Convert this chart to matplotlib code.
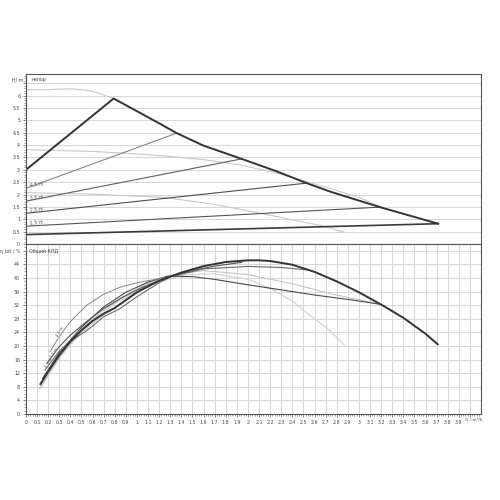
import matplotlib
matplotlib.use("Agg")
import matplotlib.pyplot as plt
import numpy as np

# ---------------- data: head chart ----------------
max_q = [0.0, 0.79, 1.207, 1.358, 1.597, 1.943, 2.25, 2.529, 2.739, 3.189, 3.714]
max_h = [3.0, 5.88, 4.86, 4.48, 3.98, 3.44, 2.95, 2.46, 2.12, 1.49, 0.82]

dpv_names = ["4.5 m", "3.5 m", "2.5 m", "1.5 m"]
dpv_q = [[0.0, 1.358], [0.0, 1.943], [0.0, 2.529], [0.0, 3.189]]
dpv_h = [[2.25, 4.48], [1.73, 3.44], [1.24, 2.46], [0.72, 1.49]]
dpv_colors = ["#858585", "#5e5e5e", "#4e4e4e", "#555555"]

min_q = [0.0, 3.714]
min_h = [0.38, 0.82]

spdA_q = [0.0, 0.2, 0.4, 0.55, 0.68, 0.79]
spdA_h = [6.23, 6.24, 6.27, 6.22, 6.06, 5.88]
spdB_q = [0.0, 0.6, 1.0, 1.3, 1.6, 1.95, 2.3, 2.7, 3.0, 3.189]
spdB_h = [3.81, 3.74, 3.64, 3.54, 3.41, 3.18, 2.82, 2.3, 1.88, 1.52]
spdC_q = [0.0, 0.65, 1.25, 1.7, 2.14, 2.4, 2.68, 2.87]
spdC_h = [2.07, 2.01, 1.88, 1.6, 1.22, 0.98, 0.72, 0.48]

# ---------------- data: efficiency chart ----------------
eff_main_q = [0.13, 0.2, 0.3, 0.4, 0.5, 0.6, 0.7, 0.8, 1.0, 1.2, 1.4, 1.6, 1.8, 2.0, 2.1, 2.2,
              2.4, 2.6, 2.8, 3.0, 3.2, 3.4, 3.6, 3.71]
eff_main = [8.8, 12.5, 17.3, 21.3, 24.6, 27.4, 29.5, 31.2, 35.8, 39.2, 41.6, 43.5, 44.7, 45.2,
            45.2, 45.0, 43.9, 41.8, 39.0, 35.8, 32.2, 28.3, 23.6, 20.5]

eff45_q = [0.216, 0.3, 0.4, 0.547, 0.7, 0.847, 1.0, 1.117, 1.25, 1.36]
eff45 = [18.3, 22.8, 27.2, 32.0, 35.2, 37.3, 38.6, 39.3, 40.1, 40.8]
eff35_q = [0.19, 0.3, 0.4, 0.547, 0.7, 0.847, 1.0, 1.117, 1.3, 1.5, 1.7, 1.943]
eff35 = [15.0, 19.8, 23.2, 27.2, 31.0, 33.9, 36.5, 38.2, 40.5, 42.2, 43.5, 44.6]
eff25_q = [0.17, 0.3, 0.4, 0.547, 0.7, 0.847, 1.0, 1.2, 1.3, 1.6, 2.0, 2.3, 2.529]
eff25 = [12.9, 18.5, 21.5, 24.5, 28.6, 31.0, 34.5, 38.6, 40.3, 42.7, 43.4, 43.1, 42.4]
eff15_q = [0.15, 0.3, 0.5, 0.7, 0.9, 1.1, 1.27, 1.5, 1.7, 2.0, 2.3, 2.6, 2.9, 3.189]
eff15 = [10.5, 18.0, 25.5, 31.5, 35.8, 38.8, 40.5, 40.4, 39.6, 38.0, 36.5, 35.0, 33.7, 32.3]

effA_q = [0.12, 0.2, 0.3, 0.4, 0.5, 0.6, 0.7, 0.79]
effA = [7.5, 11.5, 16.5, 20.5, 23.8, 26.8, 29.2, 31.0]
effB_q = [0.14, 0.3, 0.5, 0.7, 0.9, 1.1, 1.3, 1.6, 2.0, 2.4, 2.74, 3.0, 3.189]
effB = [8.5, 17.5, 25.0, 30.5, 35.0, 38.5, 40.8, 42.2, 41.0, 38.3, 35.4, 33.6, 32.3]
effC_q = [0.13, 0.3, 0.5, 0.8, 1.1, 1.4, 1.69, 2.0, 2.2, 2.41, 2.6, 2.74, 2.87]
effC = [7.5, 16.5, 24.5, 32.5, 37.8, 40.8, 41.3, 39.6, 37.0, 33.0, 28.0, 24.6, 20.2]

# ---------------- ticks ----------------
x_ticks = [round(0.1 * i, 1) for i in range(41)]
x_labels = [f"{v:g}" for v in x_ticks[:-1]] + [""]
x_unit = "Q / m³/h"
h_ticks = [0, 0.5, 1, 1.5, 2, 2.5, 3, 3.5, 4, 4.5, 5, 5.5, 6, 6.5]
h_labels = [f"{v:g}" for v in h_ticks[:-1]] + [""]
e_ticks = [0, 4, 8, 12, 16, 20, 24, 28, 32, 36, 40, 44, 48]
e_labels = [f"{v:g}" for v in e_ticks[:-1]] + ["η tot / %"]

# ---------------- figure ----------------
fig = plt.figure(figsize=(5, 5), dpi=100)
ax1 = fig.add_axes([0.052, 0.512, 0.91, 0.34])
ax2 = fig.add_axes([0.052, 0.172, 0.91, 0.34])

spine_c = "#555555"
grid_c = "#d6d6d6"
fs = 3.4

for ax in (ax1, ax2):
    ax.set_xlim(0, 4.1)
    for s in ax.spines.values():
        s.set_color(spine_c)
        s.set_linewidth(0.8)
    ax.tick_params(axis="both", which="major", length=2.2, width=0.5, color=spine_c,
                   labelsize=fs, labelcolor="#444444", pad=2)
    ax.tick_params(axis="both", which="minor", length=1.2, width=0.4, color=spine_c)

# top chart
ax1.set_ylim(0, 6.87)
ax1.set_yticks(h_ticks)
ax1.set_yticklabels(h_labels)
ax1.set_yticks(np.arange(0, 6.81, 0.1), minor=True)
ax1.set_xticks([])
ax1.yaxis.grid(True, color=grid_c, linewidth=0.7)
ax1.set_axisbelow(True)
ax1.text(-0.006, 6.64, "H/ m", transform=ax1.get_yaxis_transform(), ha="right",
         va="center", fontsize=fs, color="#444444")
ax1.text(0.05, 6.64, "напор", fontsize=fs, color="#444444", va="center", ha="left")

ax1.plot(spdA_q, spdA_h, color="#c8c8c8", lw=0.8)
ax1.plot(spdB_q, spdB_h, color="#c8c8c8", lw=0.8)
ax1.plot(spdC_q, spdC_h, color="#c8c8c8", lw=0.8)
ax1.plot(min_q, min_h, color="#3a3a3a", lw=1.2)
for name, q, h, c in zip(dpv_names, dpv_q, dpv_h, dpv_colors):
    ax1.plot(q, h, color=c, lw=0.8)
    ax1.text(0.03, h[0] + 0.13, name, fontsize=fs, color="#555555", ha="left",
             va="center", rotation=6)
ax1.plot(max_q, max_h, color="#333333", lw=1.4)

# bottom chart
ax2.set_ylim(0, 50)
ax2.set_yticks(e_ticks)
ax2.set_yticklabels(e_labels)
ax2.set_yticks(np.arange(0, 50, 1), minor=True)
ax2.set_xticks(x_ticks)
ax2.set_xticklabels(x_labels)
ax2.set_xticks(np.arange(0, 4.1, 0.02), minor=True)
ax2.grid(True, which="major", color=grid_c, linewidth=0.7)
ax2.set_axisbelow(True)
ax2.text(0.03, 48, "Общий КПД", fontsize=fs, color="#444444", va="center", ha="left")
ax2.text(3.955, -0.028, x_unit, transform=ax2.get_xaxis_transform(), fontsize=3.1,
         color="#444444", ha="left", va="top")

ax2.plot(effC_q, effC, color="#cfcfcf", lw=0.8)
ax2.plot(effB_q, effB, color="#c4c4c4", lw=0.8)
ax2.plot(effA_q, effA, color="#c4c4c4", lw=0.8)
ax2.plot(eff15_q, eff15, color="#4a4a4a", lw=0.8)
ax2.plot(eff25_q, eff25, color="#6a6a6a", lw=0.8)
ax2.plot(eff35_q, eff35, color="#555555", lw=0.8)
ax2.plot(eff45_q, eff45, color="#858585", lw=0.7)
ax2.plot(eff_main_q, eff_main, color="#333333", lw=1.4)

ax2.text(eff45_q[1] + 0.01, eff45[1] + 1.5, "4.5 m", fontsize=2.8, color="#555555",
         rotation=58, ha="center", va="center")
ax2.text(eff35_q[0] + 0.06, eff35[0] + 3.0, "3.5 m", fontsize=2.8, color="#555555",
         rotation=58, ha="center", va="center")
ax2.text(eff25_q[0] + 0.04, eff25[0] + 2.2, "2.5 m", fontsize=2.8, color="#555555",
         rotation=58, ha="center", va="center")

fig.savefig("out.png", dpi=100, facecolor="white")
